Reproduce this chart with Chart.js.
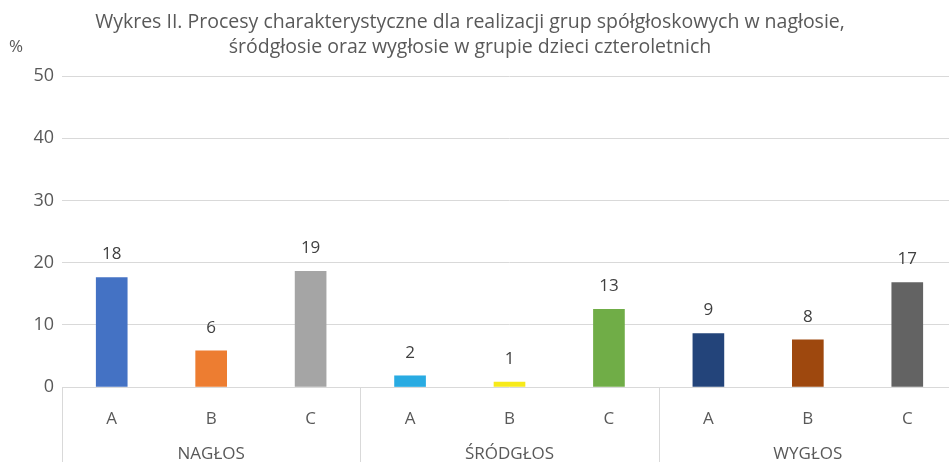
<!DOCTYPE html>
<html>
<head>
<meta charset="utf-8">
<script src="https://cdn.jsdelivr.net/npm/chart.js@4"></script>
<style>
  body { margin: 0; overflow: hidden; background: #fff; }
  #wrap { width: 957px; height: 462px; position: relative; }
</style>
</head>
<body>
<div id="wrap"><canvas id="barChart"></canvas></div>
<script>
const groups = ["NAGŁOS", "ŚRÓDGŁOS", "WYGŁOS"];
const subLabels = ["A", "B", "C", "A", "B", "C", "A", "B", "C"];
const values = [17.6, 5.8, 18.6, 1.8, 0.8, 12.5, 8.6, 7.6, 16.8];
const barColors = ["#4472C4", "#ED7D31", "#A5A5A5", "#29ABE2", "#F7EA1A", "#70AD47", "#23447A", "#9E480E", "#636363"];
const titleLines = ["Wykres II. Procesy charakterystyczne dla realizacji grup spółgłoskowych w nagłosie,", "śródgłosie oraz wygłosie w grupie dzieci czteroletnich"];

const FONT = '"Open Sans", sans-serif';
const textColor = "#595959";

// title, "%" label, value labels and group separators
const extras = {
  id: "extras",
  afterDraw(chart) {
    const ctx = chart.ctx;
    const xs = chart.scales.x;
    const area = chart.chartArea;
    ctx.save();
    ctx.fillStyle = textColor;
    ctx.font = "19.5px " + FONT;
    ctx.textAlign = "center";
    ctx.textBaseline = "middle";
    ctx.fillText(titleLines[0], 470, 22);
    ctx.fillText(titleLines[1], 470, 47);
    ctx.textAlign = "left";
    ctx.font = "17px " + FONT;
    ctx.fillText("%", 9, 47);

    // value labels
    ctx.fillStyle = "#404040";
    ctx.font = "17px " + FONT;
    ctx.textAlign = "center";
    const meta = chart.getDatasetMeta(0);
    meta.data.forEach((bar, i) => {
      ctx.fillText(String(Math.round(values[i])), bar.x, bar.y - 23);
    });

    // group separators under the axis
    const step = xs.getPixelForValue(1) - xs.getPixelForValue(0);
    ctx.strokeStyle = "#D9D9D9";
    ctx.lineWidth = 1;
    for (let g = 0; g <= groups.length; g++) {
      const x = Math.round(xs.getPixelForValue(g * 3) - step / 2) + 0.5;
      ctx.beginPath();
      ctx.moveTo(x, area.bottom);
      ctx.lineTo(x, chart.height);
      ctx.stroke();
    }
    ctx.restore();
  }
};

const ctx = document.getElementById("barChart").getContext("2d");
const barChart = new Chart(ctx, {
  type: "bar",
  data: {
    labels: subLabels,
    datasets: [
      {
        data: values,
        backgroundColor: barColors,
        borderWidth: 0,
        barThickness: 31,
      },
    ],
  },
  options: {
    responsive: true,
    maintainAspectRatio: false,
    animation: false,
    layout: { padding: { top: 76, left: 0, right: 0, bottom: 0 } },
    plugins: {
      legend: { display: false },
      tooltip: { enabled: false },
    },
    scales: {
      y: {
        min: 0,
        max: 50,
        ticks: { stepSize: 10, padding: 8, color: textColor, font: { family: FONT, size: 18 } },
        grid: { color: "#D9D9D9", drawTicks: false },
        border: { display: false },
        afterFit(s) { s.width = 62; },
      },
      x: {
        grid: { display: false, tickLength: 0 },
        border: { display: false },
        ticks: { color: textColor, padding: 22, autoSkip: false, maxRotation: 0, font: { family: FONT, size: 17 } },
        afterFit(s) { s.height = 46; },
      },
      x2: {
        type: "category",
        position: "bottom",
        labels: groups,
        offset: true,
        weight: 1,
        grid: { display: false, tickLength: 0 },
        border: { display: false },
        ticks: { color: textColor, padding: 11, autoSkip: false, maxRotation: 0, font: { family: FONT, size: 17 } },
        afterFit(s) { s.height = 29; },
      },
    },
  },
  plugins: [extras],
});
</script>
</body>
</html>
